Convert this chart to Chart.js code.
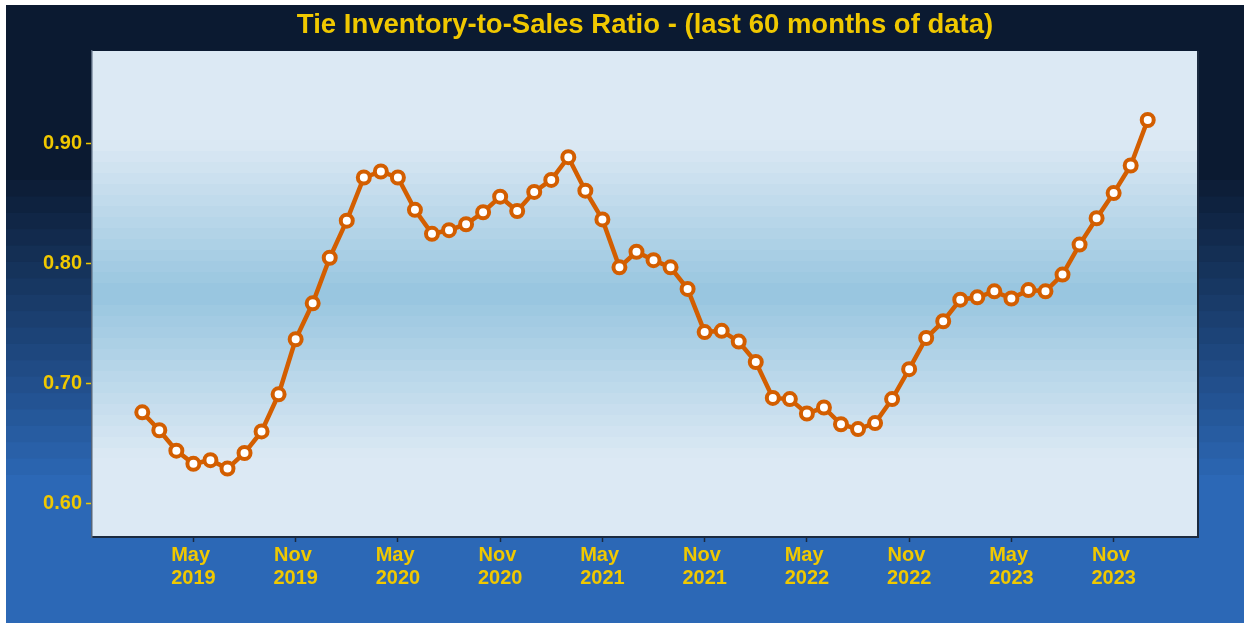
<!DOCTYPE html>
<html>
<head>
<meta charset="utf-8">
<script src="https://cdn.jsdelivr.net/npm/chart.js@4.4.1/dist/chart.umd.min.js"></script>
<style>
  html, body { margin: 0; padding: 0; background: #fff; }
</style>
</head>
<body>
<canvas id="chart" width="1244" height="623"></canvas>
<script>
// months shown (last 60 months)
var months = [
  "2019-02","2019-03","2019-04","2019-05","2019-06","2019-07","2019-08","2019-09","2019-10","2019-11","2019-12",
  "2020-01","2020-02","2020-03","2020-04","2020-05","2020-06","2020-07","2020-08","2020-09","2020-10","2020-11","2020-12",
  "2021-01","2021-02","2021-03","2021-04","2021-05","2021-06","2021-07","2021-08","2021-09","2021-10","2021-11","2021-12",
  "2022-01","2022-02","2022-03","2022-04","2022-05","2022-06","2022-07","2022-08","2022-09","2022-10","2022-11","2022-12",
  "2023-01","2023-02","2023-03","2023-04","2023-05","2023-06","2023-07","2023-08","2023-09","2023-10","2023-11","2023-12",
  "2024-01"
];

// inventory-to-sales ratio
var ratios = [
  0.676, 0.661, 0.644, 0.633, 0.636, 0.629, 0.642, 0.660, 0.691, 0.737, 0.767,
  0.805, 0.836, 0.872, 0.877, 0.872, 0.845, 0.825, 0.828, 0.833, 0.843, 0.856, 0.844,
  0.860, 0.870, 0.889, 0.861, 0.837, 0.797, 0.810, 0.803, 0.797, 0.779, 0.743, 0.744,
  0.735, 0.718, 0.688, 0.687, 0.675, 0.680, 0.666, 0.662, 0.667, 0.687, 0.712, 0.738,
  0.752, 0.770, 0.772, 0.777, 0.771, 0.778, 0.777, 0.791, 0.816, 0.838, 0.859, 0.882,
  0.920
];

// x tick positions and their labels
var tickMonths = ["2019-05","2019-11","2020-05","2020-11","2021-05","2021-11","2022-05","2022-11","2023-05","2023-11"];
var tickLabels = [
  ["May ", "2019"], ["Nov ", "2019"], ["May ", "2020"], ["Nov ", "2020"], ["May ", "2021"],
  ["Nov ", "2021"], ["May ", "2022"], ["Nov ", "2022"], ["May ", "2023"], ["Nov ", "2023"]
];
var yTicks = [0.60, 0.70, 0.80, 0.90];

var gold = "#f0c800";
var lineColor = "#d35e00";
var fontFamily = "'Liberation Sans', Arial, Helvetica, sans-serif";

function mix(c1, c2, t) {
  var r = Math.round(c1[0] + (c2[0] - c1[0]) * t);
  var g = Math.round(c1[1] + (c2[1] - c1[1]) * t);
  var b = Math.round(c1[2] + (c2[2] - c1[2]) * t);
  return "rgb(" + r + "," + g + "," + b + ")";
}

// banded backgrounds, outer frame and panel
var backdrop = {
  id: "backdrop",
  beforeDraw: function (chart) {
    var ctx = chart.ctx, a = chart.chartArea;
    var W = chart.width, H = chart.height;
    var navy = [11, 26, 49], blue = [44, 104, 182];
    ctx.save();
    ctx.fillStyle = "#ffffff";
    ctx.fillRect(0, 0, W, H);
    ctx.fillStyle = mix(navy, blue, 0);
    ctx.fillRect(6, 5, W - 6, H - 5);
    var top = 180, bot = 475, n = 18, h = (bot - top) / n;
    for (var i = 0; i < n; i++) {
      ctx.fillStyle = mix(navy, blue, (i + 1) / (n + 1));
      ctx.fillRect(6, top + i * h, W - 6, h + 1);
    }
    ctx.fillStyle = mix(navy, blue, 1);
    ctx.fillRect(6, bot, W - 6, H - bot);

    // panel
    var light = [220, 233, 244], mid = [151, 197, 223];
    ctx.fillStyle = mix(light, mid, 0);
    ctx.fillRect(a.left, a.top, a.right - a.left, a.bottom - a.top);
    var p0 = 140, pc = 294, p1 = 458, bh = 11;
    for (var y = p0; y < p1; y += bh) {
      var m = y + bh / 2;
      var t = m < pc ? (m - p0) / (pc - p0) : (p1 - m) / (p1 - pc);
      ctx.fillStyle = mix(light, mid, Math.max(0, Math.min(1, t)));
      ctx.fillRect(a.left, y, a.right - a.left, Math.min(bh, p1 - y));
    }
    ctx.restore();
  },
  afterDraw: function (chart) {
    var ctx = chart.ctx, a = chart.chartArea;
    ctx.save();
    ctx.strokeStyle = "#1b2a3f";
    ctx.lineWidth = 2;
    ctx.beginPath();
    ctx.moveTo(a.right, a.top);
    ctx.lineTo(a.right, a.bottom + 1);
    ctx.stroke();
    ctx.restore();
  }
};

var points = months.map(function (m, i) {
  return { x: i, y: ratios[i] };
});

var ctx = document.getElementById("chart");
new Chart(ctx, {
  type: "line",
  data: {
    datasets: [{
      data: points,
      borderColor: lineColor,
      borderWidth: 4.5,
      pointRadius: 6,
      pointBorderWidth: 4,
      pointBorderColor: lineColor,
      pointBackgroundColor: "#ffffff",
      tension: 0
    }]
  },
  options: {
    responsive: false,
    animation: false,
    devicePixelRatio: 1,
    layout: { padding: { left: 0, right: 46, top: 0, bottom: 0 } },
    plugins: {
      legend: { display: false },
      tooltip: { enabled: false },
      title: {
        display: true,
        fullSize: false,
        text: "Tie Inventory-to-Sales Ratio - (last 60 months of data)",
        color: gold,
        font: { family: fontFamily, size: 27.5, weight: "bold", lineHeight: 1.2 },
        padding: { top: 9, bottom: 9 }
      }
    },
    scales: {
      x: {
        type: "linear",
        min: -2.95,
        max: 61.95,
        afterBuildTicks: function (s) {
          s.ticks = tickMonths.map(function (m) { return { value: months.indexOf(m) }; });
        },
        afterFit: function (s) { s.height = 86; },
        ticks: {
          autoSkip: false,
          maxRotation: 0,
          padding: 2,
          color: gold,
          font: { family: fontFamily, size: 20, weight: "bold", lineHeight: 1.15 },
          callback: function (v, i) { return tickLabels[i]; }
        },
        grid: { drawOnChartArea: false, tickLength: 5, color: "#1b2a3f", tickWidth: 1.5 },
        border: { display: true, color: "#1b2a3f", width: 2 }
      },
      y: {
        min: 0.5719,
        max: 0.9776,
        afterBuildTicks: function (s) {
          s.ticks = yTicks.map(function (v) { return { value: v }; });
        },
        afterFit: function (s) { s.width = 92; },
        ticks: {
          padding: 4,
          color: gold,
          font: { family: fontFamily, size: 20, weight: "bold" },
          callback: function (v) { return v.toFixed(2); }
        },
        grid: { drawOnChartArea: false, tickLength: 6, color: gold, tickWidth: 1.5 },
        border: { display: true, color: "#55657a", width: 1.5 }
      }
    }
  },
  plugins: [backdrop]
});
</script>
</body>
</html>
